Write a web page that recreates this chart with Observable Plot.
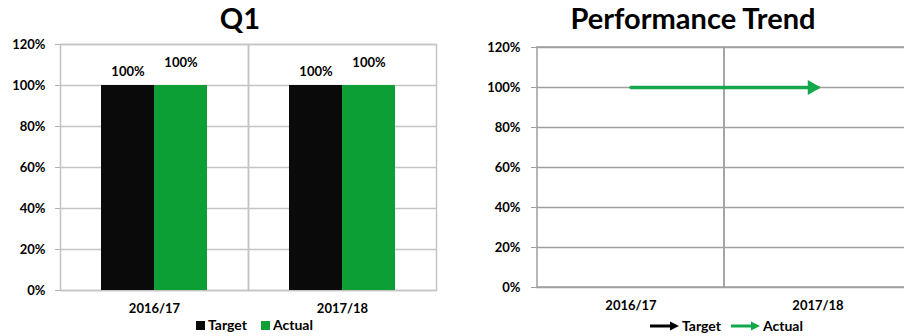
<!DOCTYPE html>
<html><head><meta charset="utf-8">
<script src="https://cdn.jsdelivr.net/npm/d3@7"></script>
<script src="https://cdn.jsdelivr.net/npm/@observablehq/plot@0.6"></script>
<style>
body{margin:0;width:904px;height:336px;overflow:hidden;position:relative;background:#fff;font-family:Lato,"Open Sans",sans-serif;color:#000}
.panel{position:absolute;top:0;height:336px}
.panel svg{position:absolute;left:0;top:0;overflow:visible}
.title{position:absolute;top:0px;text-align:center;font-weight:700;font-size:29px;line-height:36px;white-space:nowrap}
.legend{position:absolute;font-weight:700;font-size:14px;line-height:16px;white-space:nowrap;display:flex;align-items:center}
.legend .sw{display:inline-block;width:9px;height:9px;margin-right:3px}
.legend .item{display:flex;align-items:center;margin-right:14px}
.legend svg{position:static}
</style>
</head><body>
<div class="panel" id="left" style="left:0;width:452px">
  <div class="title" style="left:0;width:480px">Q1</div>
</div>
<div class="panel" id="right" style="left:452px;width:460px">
  <div class="title" style="left:0;width:482px">Performance Trend</div>
</div>
<script>
const categories = ["2016/17", "2017/18"];
const seriesNames = ["Target", "Actual"];
const targetValues = [1.0, 1.0];
const actualValues = [1.0, 1.0];
const yTicks = [0, 0.2, 0.4, 0.6, 0.8, 1.0, 1.2];
const barColors = ["#0a0a0a", "#0b9f35"];
const lineColors = ["#000000", "#13a84b"];

const rows = categories.flatMap((c, i) => [
  {category: c, series: "Target", value: targetValues[i]},
  {category: c, series: "Actual", value: actualValues[i]}
]);
const pct = d => Math.round(d * 100) + "%";
const baseStyle = {fontFamily: "Lato, 'Open Sans', sans-serif", fontWeight: 700, fontSize: "13px", color: "#000", background: "transparent", overflow: "visible"};

// Left: clustered bar chart
const left = Plot.plot({
  width: 452, height: 336,
  marginLeft: 60, marginRight: 16, marginTop: 44, marginBottom: 46,
  style: baseStyle,
  y: {domain: [0, 1.2]},
  fx: {domain: categories, padding: 0},
  x: {domain: seriesNames, paddingOuter: 0.757, paddingInner: 0, axis: null},
  color: {domain: seriesNames, range: barColors},
  marks: [
    Plot.gridY(yTicks, {stroke: "#c4c4c4", strokeOpacity: 1, strokeWidth: 1.5}),
    Plot.frame({stroke: "#c4c4c4", strokeWidth: 1.5}),
    Plot.barY(rows, {fx: "category", x: "series", y: "value", fill: "series"}),
    Plot.text(rows.filter(d => d.series === "Target"), {fx: "category", x: "series", y: "value", text: d => pct(d.value), dy: -14, fontSize: 13, fontWeight: 700, fill: "#000"}),
    Plot.text(rows.filter(d => d.series === "Actual"), {fx: "category", x: "series", y: "value", text: d => pct(d.value), dy: -23, fontSize: 13, fontWeight: 700, fill: "#000"}),
    Plot.axisY(yTicks, {tickFormat: pct, tickSize: 5, tickPadding: 10, stroke: "#b0b0b0", fill: "#000", label: null, fontSize: 13}),
    Plot.axisFx({anchor: "bottom", tickSize: 0, tickPadding: 13, label: null, fill: "#000", fontSize: 13})
  ]
});
document.getElementById("left").appendChild(left);

// Right: performance trend lines
const right = Plot.plot({
  width: 460, height: 336,
  marginLeft: 84, marginRight: 1, marginTop: 47, marginBottom: 49,
  style: baseStyle,
  y: {domain: [0, 1.2]},
  x: {type: "band", domain: categories, padding: 0},
  marks: [
    Plot.gridY(yTicks, {stroke: "#a0a0a0", strokeOpacity: 1, strokeWidth: 1.5}),
    Plot.cell(categories, {x: d => d, fill: "none", stroke: "#a0a0a0", strokeWidth: 1.5}),
    Plot.line(rows.filter(d => d.series === "Target"), {x: "category", y: "value", stroke: lineColors[0], strokeWidth: 2.5}),
    Plot.dot(rows.filter(d => d.series === "Target").slice(-1), {x: "category", y: "value", symbol: "triangle", rotate: 90, r: 5, dx: -6, fill: lineColors[0]}),
    Plot.line(rows.filter(d => d.series === "Actual"), {x: "category", y: "value", stroke: lineColors[1], strokeWidth: 3.5}),
    Plot.dot(rows.filter(d => d.series === "Actual").slice(-1), {x: "category", y: "value", symbol: "triangle", rotate: 90, r: 5.5, dx: -6, fill: lineColors[1]}),
    Plot.axisY(yTicks, {tickFormat: pct, tickSize: 5, tickPadding: 11, stroke: "#a0a0a0", fill: "#000", label: null, fontSize: 13}),
    Plot.axisX({tickSize: 0, tickPadding: 13, label: null, fill: "#000", fontSize: 13})
  ]
});
document.getElementById("right").appendChild(right);

// Legends
function arrowSwatch(color) {
  return `<svg width="30" height="10" style="margin-right:2px"><line x1="0" y1="5" x2="22" y2="5" stroke="${color}" stroke-width="3"/><path d="M20,0.5 L29,5 L20,9.5Z" fill="${color}"/></svg>`;
}
const lg1 = document.createElement("div");
lg1.className = "legend";
lg1.style.left = "196px"; lg1.style.top = "317px";
lg1.innerHTML = seriesNames.map((s, i) => `<span class="item"><span class="sw" style="background:${barColors[i]}"></span>${s}</span>`).join("");
document.getElementById("left").appendChild(lg1);

const lg2 = document.createElement("div");
lg2.className = "legend";
lg2.style.left = "198px"; lg2.style.top = "318px";
lg2.innerHTML = seriesNames.map((s, i) => `<span class="item" style="margin-right:10px">${arrowSwatch(lineColors[i])}${s}</span>`).join("");
document.getElementById("right").appendChild(lg2);
</script>
</body></html>
